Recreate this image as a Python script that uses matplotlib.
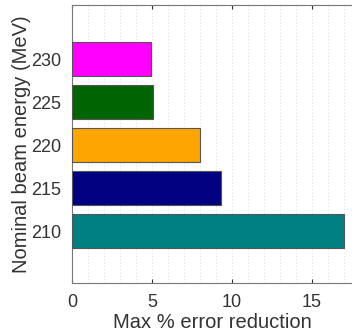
import matplotlib
matplotlib.use('Agg')
import matplotlib.pyplot as plt
import numpy as np

plt.rcParams['font.family'] = ['Liberation Sans', 'DejaVu Sans']

energies = ['210', '215', '220', '225', '230']
reduction = [17.0, 9.3, 8.0, 5.05, 4.95]
colors = ['#008080', '#000080', '#FFA500', '#006400', '#FF00FF']

fig = plt.figure(figsize=(3.52, 3.31), dpi=100)
ax = fig.add_axes([72/352, 48/331, 280/352, 278/331])

pos = np.arange(len(energies))
ax.barh(pos, reduction, height=0.8, color=colors, edgecolor='#555555', linewidth=0.8, zorder=3)

ax.set_xlim(0, 17.5)
ax.set_ylim(-1.21, 4 + 1.26)
ax.set_xticks([0, 5, 10, 15])
ax.set_xticks(np.arange(0, 18, 1), minor=True)
ax.set_yticks(pos)
ax.set_yticklabels(energies)
ax.grid(True, axis='x', which='both', linestyle=(0, (1, 3)), color='#d0d0d0', linewidth=0.6, zorder=0)
ax.tick_params(axis='both', which='both', direction='in', top=True, right=False,
               labelsize=13, colors='#333333', length=3)
ax.tick_params(axis='y', pad=8)
ax.tick_params(axis='x', pad=8)
ax.tick_params(axis='both', which='minor', length=0)
for s in ['left', 'bottom', 'top']:
    ax.spines[s].set_color('#777777')
    ax.spines[s].set_linewidth(0.8)
ax.spines['right'].set_visible(False)

ax.set_xlabel('Max % error reduction', fontsize=14.5, color='#333333', labelpad=1)
ax.set_ylabel('Nominal beam energy (MeV)', fontsize=14.5, color='#333333', labelpad=0)

fig.savefig('out.png', dpi=100)
